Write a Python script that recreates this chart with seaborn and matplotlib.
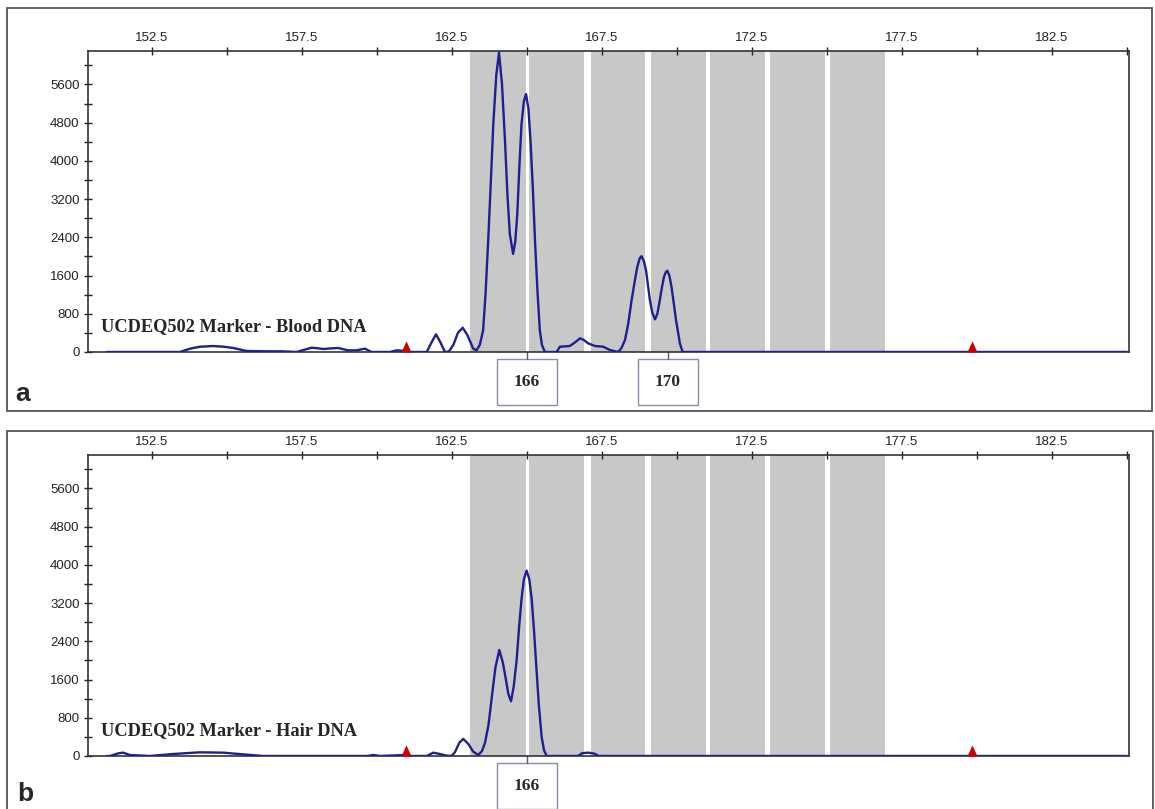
import matplotlib
matplotlib.use("Agg")
import numpy as np
import pandas as pd
import seaborn as sns
import matplotlib.pyplot as plt

from matplotlib.patches import Rectangle
from matplotlib.markers import MarkerStyle
from matplotlib.ticker import MultipleLocator, FuncFormatter

# fragment size (bp) and signal (RFU)
blood_size = [151.0, 153.43, 153.77, 154.1, 154.54, 154.9, 155.21, 155.66, 156.3, 156.88,
              157.32, 157.6, 157.82, 158.0, 158.21, 158.45, 158.71, 159.04, 159.32, 159.6,
              159.82, 160.43, 160.66, 160.93, 161.16, 161.66, 161.82, 161.97, 162.12, 162.27,
              162.4, 162.55, 162.7, 162.86, 163.02, 163.21, 163.32, 163.43, 163.54, 163.62,
              163.71, 163.8, 163.88, 163.98, 164.07, 164.17, 164.27, 164.35, 164.43, 164.54,
              164.61, 164.68, 164.75, 164.82, 164.9, 164.97, 165.05, 165.12, 165.2, 165.27,
              165.35, 165.43, 165.5, 165.6, 165.99, 166.1, 166.43, 166.6, 166.77, 166.9,
              167.04, 167.27, 167.54, 167.77, 168.04, 168.15, 168.27, 168.38, 168.49, 168.6,
              168.68, 168.76, 168.82, 168.9, 168.97, 169.1, 169.18, 169.27, 169.35, 169.43,
              169.5, 169.57, 169.63, 169.68, 169.75, 169.82, 169.9, 169.97, 170.1, 170.19,
              185.0]
blood_rfu = [0, 0, 70, 110, 125, 110, 84, 21, 15, 14,
             0, 50, 90, 80, 63, 75, 84, 35, 35, 70,
             0, 0, 35, 21, 0, 0, 200, 369, 200, 0,
             10, 150, 400, 508, 350, 70, 35, 150, 450, 1200,
             2333, 3600, 4771, 5800, 6268, 5600, 4423, 3300, 2473, 2055,
             2300, 2890, 3900, 4771, 5250, 5398, 5100, 4423, 3400, 2333,
             1300, 453, 150, 0, 0, 111, 125, 200, 286, 250,
             181, 125, 111, 42, 0, 80, 251, 600, 1087, 1500,
             1783, 1960, 2006, 1900, 1713, 1087, 820, 683, 800, 1087,
             1350, 1574, 1670, 1699, 1600, 1365, 1000, 669, 181, 0,
             0]

hair_size = [151.0, 151.1, 151.38, 151.54, 151.77, 152.43, 153.21, 154.1, 154.88, 155.66,
             156.21, 159.66, 159.88, 160.1, 160.66, 160.93, 161.16, 161.66, 161.88, 162.1,
             162.3, 162.49, 162.6, 162.75, 162.88, 163.05, 163.21, 163.38, 163.5, 163.6,
             163.72, 163.82, 163.95, 164.08, 164.2, 164.3, 164.38, 164.47, 164.56, 164.66,
             164.74, 164.82, 164.9, 164.99, 165.08, 165.16, 165.24, 165.32, 165.4, 165.49,
             165.57, 165.66, 166.7, 166.85, 167.05, 167.25, 167.4, 185.0]
hair_rfu = [0, 0, 56, 70, 21, 0, 42, 77, 70, 28,
            0, 0, 21, 0, 14, 21, 0, 0, 70, 42,
            10, 0, 80, 280, 358, 250, 91, 21, 100, 267,
            650, 1179, 1850, 2218, 1950, 1600, 1300, 1144, 1450, 2021,
            2700, 3284, 3700, 3881, 3700, 3284, 2600, 1811, 1050, 407,
            120, 0, 0, 60, 70, 50, 0, 0]

# allele bins (grey) and internal size standard marks (red)
bin_starts = [163.1, 165.07, 167.12, 169.12, 171.1, 173.1, 175.1]
bin_ends = [164.97, 166.91, 168.93, 170.97, 172.93, 174.93, 176.93]
ladder_marks = [160.97, 179.83]

blood_alleles = ["166", "170"]
blood_allele_pos = [165.0, 169.7]
hair_alleles = ["166"]
hair_allele_pos = [165.0]

X_MIN, X_MAX = 150.37, 185.07
Y_MAX = 6300
TRACE = "#1f1f90"


def top_label(v, pos):
    k = (v - 152.5) / 5
    return f"{v:.1f}" if abs(k - round(k)) < 1e-6 else ""


def draw_panel(ax, size, rfu, allele_pos, allele_names, title):
    for s, e in zip(bin_starts, bin_ends):
        ax.axvspan(s, e, color="#c8c8c8", lw=0, zorder=0)

    df = pd.DataFrame({"size": size, "rfu": rfu})
    sns.lineplot(data=df, x="size", y="rfu", ax=ax, color=TRACE, lw=1.7,
                 estimator=None, sort=False, zorder=3)

    tri = MarkerStyle(np.array([(-0.5, 0.0), (0.5, 0.0), (0.0, 1.1)]))
    ax.plot(ladder_marks, [0] * len(ladder_marks), ls="none", marker=tri, ms=16,
            mew=0, color="#cc0000", zorder=4, clip_on=False)

    ax.set_xlim(X_MIN, X_MAX)
    ax.set_ylim(0, Y_MAX)
    ax.set_xlabel("")
    ax.set_ylabel("")

    ax.xaxis.tick_top()
    ax.xaxis.set_major_locator(MultipleLocator(2.5))
    ax.xaxis.set_major_formatter(FuncFormatter(top_label))
    ax.tick_params(axis="x", direction="inout", length=6, width=1, labelsize=9.5,
                   pad=2, colors="#222222", top=True, bottom=False)
    ax.yaxis.set_major_locator(MultipleLocator(800))
    ax.yaxis.set_minor_locator(MultipleLocator(400))
    ax.tick_params(axis="y", which="both", direction="inout", length=6, width=1,
                   labelsize=9.5, pad=3, colors="#222222")
    for sp in ax.spines.values():
        sp.set_visible(True)
        sp.set_color("#333333")
        sp.set_linewidth(1.2)

    # allele call boxes under the axis
    trans = ax.get_xaxis_transform()
    for pos, name in zip(allele_pos, allele_names):
        ax.plot([pos, pos], [0, -0.023], transform=trans, color="#55557a", lw=1, clip_on=False)
        ax.add_patch(Rectangle((pos - 1.0, -0.176), 2.0, 0.153, transform=trans,
                               fc="white", ec="#8a8aa8", lw=1, clip_on=False))
        ax.text(pos, -0.1, name, transform=trans, ha="center", va="center",
                fontsize=12.5, fontweight="bold", family=["Liberation Serif", "DejaVu Serif"])

    ax.text(0.0125, 0.085, title, transform=ax.transAxes, ha="left", va="center",
            fontsize=13.2, fontweight="bold", family=["Liberation Serif", "DejaVu Serif"])


def main():
    sns.set_style("ticks")
    plt.rcParams["font.family"] = ["Liberation Sans", "DejaVu Sans"]

    fig = plt.figure(figsize=(11.55, 8.09), dpi=100)
    ax_a = fig.add_axes([88 / 1155, 1 - 352 / 809, 1041 / 1155, 301 / 809])
    ax_b = fig.add_axes([88 / 1155, 1 - 756 / 809, 1041 / 1155, 301 / 809])

    draw_panel(ax_a, blood_size, blood_rfu, blood_allele_pos, blood_alleles,
               "UCDEQ502 Marker - Blood DNA")
    draw_panel(ax_b, hair_size, hair_rfu, hair_allele_pos, hair_alleles,
               "UCDEQ502 Marker - Hair DNA")

    # panel frames and letters
    fig.add_artist(Rectangle((7 / 1155, 1 - 411 / 809), 1145 / 1155, 403 / 809,
                             transform=fig.transFigure, fill=False, ec="#555555", lw=1.3))
    fig.add_artist(Rectangle((7 / 1155, -0.05), 1146 / 1155, 1 - 431 / 809 + 0.05,
                             transform=fig.transFigure, fill=False, ec="#555555", lw=1.3))
    fig.text(23 / 1155, 1 - 394 / 809, "a", fontsize=19, fontweight="bold",
             ha="center", va="center")
    fig.text(25 / 1155, 1 - 794 / 809, "b", fontsize=19, fontweight="bold",
             ha="center", va="center")

    fig.savefig("out.png", dpi=100)
    plt.close(fig)


if __name__ == "__main__":
    main()
